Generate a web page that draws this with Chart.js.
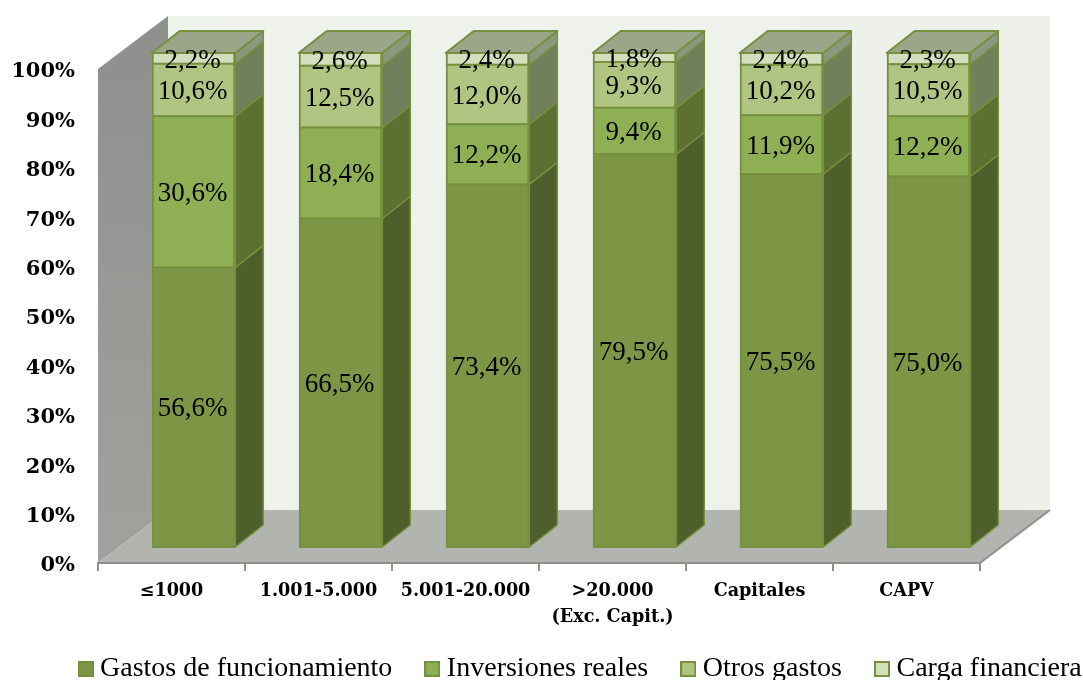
<!DOCTYPE html>
<html>
<head>
<meta charset="utf-8">
<style>html,body{margin:0;padding:0;background:#fff}#w{width:1083px;height:680px}</style>
<script src="https://cdn.jsdelivr.net/npm/chart.js@4"></script>
</head>
<body>
<div id="w"><canvas id="c" width="1083" height="680"></canvas></div>
<script>
const categories = ['≤1000','1.001-5.000','5.001-20.000',['>20.000','(Exc. Capit.)'],'Capitales','CAPV'];
const seriesNames = ['Gastos de funcionamiento','Inversiones reales','Otros gastos','Carga financiera'];
const gastos = [56.6,66.5,73.4,79.5,75.5,75.0];
const inversiones = [30.6,18.4,12.2,9.4,11.9,12.2];
const otros = [10.6,12.5,12.0,9.3,10.2,10.5];
const carga = [2.2,2.6,2.4,1.8,2.4,2.3];
const frontColors = ['#7D9645','#8FAF55','#B1C582','#D3DFBC'];
const sideColors = ['#4F5F2B','#5C7031','#70805A','#8A9880'];
const edgeColor = '#76903F';
const topColor = '#9BA587';
const SERIF = '"Liberation Serif", serif';
const BOLD = '"DejaVu Serif", serif';
const WALL = {dx:70, dy:-53};
const BAR = {ox:22, oy:-16, dx:28, dy:-22};

function swatch(color){
  const s = document.createElement('canvas'); s.width = 16; s.height = 16;
  const g = s.getContext('2d');
  g.fillStyle = color; g.fillRect(0,0,16,16);
  g.strokeStyle = edgeColor; g.lineWidth = 2; g.strokeRect(1,1,14,14);
  return s;
}
function poly(ctx, pts, fill, stroke, lw){
  ctx.beginPath(); pts.forEach((p,i)=> i?ctx.lineTo(p[0],p[1]):ctx.moveTo(p[0],p[1])); ctx.closePath();
  if(fill){ctx.fillStyle=fill;ctx.fill();}
  if(stroke){ctx.strokeStyle=stroke;ctx.lineWidth=lw||1;ctx.lineJoin='round';ctx.stroke();}
}
const scene = {
  id:'scene',
  afterLayout(chart){
    const l = chart.legend;
    const pad = l.options.labels.padding;
    l.left = 85 - pad; l.right = 1160; l.top = 655 - pad; l.bottom = 680;
    chart.scales.x.bottom = 640;
  },
  beforeDraw(chart){
    const {ctx, chartArea:a} = chart;
    const d = WALL;
    ctx.save();
    let g = ctx.createLinearGradient(a.left+d.dx,0,a.right+d.dx,0);
    g.addColorStop(0,'#EEF3EC'); g.addColorStop(1,'#EDF1E9');
    ctx.fillStyle = g;
    ctx.fillRect(a.left+d.dx, a.top+d.dy, a.right-a.left, a.bottom-a.top);
    g = ctx.createLinearGradient(0,a.top,0,a.bottom);
    g.addColorStop(0,'#8F918E'); g.addColorStop(1,'#A0A39D');
    poly(ctx,[[a.left,a.top],[a.left+d.dx,a.top+d.dy],[a.left+d.dx,a.bottom+d.dy],[a.left,a.bottom]],g);
    poly(ctx,[[a.left,a.bottom],[a.left+d.dx,a.bottom+d.dy],[a.right+d.dx,a.bottom+d.dy],[a.right,a.bottom]],'#B2B5AF');
    ctx.beginPath(); ctx.moveTo(a.right,a.bottom); ctx.lineTo(a.right+d.dx,a.bottom+d.dy);
    ctx.strokeStyle='#8E908C'; ctx.lineWidth=2; ctx.stroke();
    ctx.restore();
  },
  beforeDatasetsDraw(chart){
    const ctx = chart.ctx;
    ctx.save();
    ctx.translate(BAR.ox, BAR.oy);
    chart.data.datasets.forEach((ds,i)=>{
      const last = i === chart.data.datasets.length-1;
      chart.getDatasetMeta(i).data.forEach(b=>{
        const r = b.x+b.width/2+1, l = b.x-b.width/2-1, t = b.y, bt = b.base;
        poly(ctx,[[r,t],[r+BAR.dx,t+BAR.dy],[r+BAR.dx,bt+BAR.dy],[r,bt]],sideColors[i],edgeColor,1.5);
        if(last) poly(ctx,[[l,t],[l+BAR.dx,t+BAR.dy],[r+BAR.dx,t+BAR.dy],[r,t]],topColor,edgeColor,2);
      });
    });
  },
  afterDatasetsDraw(chart){
    const ctx = chart.ctx;
    ctx.font = '27px '+SERIF; ctx.fillStyle='#000'; ctx.textAlign='center'; ctx.textBaseline='middle';
    chart.data.datasets.forEach((ds,i)=>{
      chart.getDatasetMeta(i).data.forEach((b,j)=>{
        const txt = ds.data[j].toFixed(1).replace('.',',')+'%';
        ctx.fillText(txt, b.x-1, (b.y+b.base)/2+2);
      });
    });
    ctx.restore();
  }
};
const sets = [gastos,inversiones,otros,carga];
new Chart(document.getElementById('c'),{
  type:'bar',
  data:{
    labels:categories,
    datasets:sets.map((vals,i)=>({
      label:seriesNames[i], data:vals, backgroundColor:frontColors[i],
      borderColor:edgeColor, borderWidth:2, borderSkipped:false, inflateAmount:1,
      categoryPercentage:0.555, barPercentage:1, clip:false
    }))
  },
  plugins:[scene],
  options:{
    responsive:false, animation:false,
    layout:{padding:{top:69,left:0,right:0,bottom:0}},
    plugins:{
      tooltip:{enabled:false},
      legend:{
        position:'bottom', align:'start',
        labels:{
          usePointStyle:true, pointStyleWidth:1, padding:39.5, color:'#000',
          font:{family:SERIF,size:28},
          generateLabels:(chart)=>chart.data.datasets.map((ds,i)=>({
            text:ds.label, datasetIndex:i, pointStyle:swatch(frontColors[i]), fontColor:'#000', hidden:false
          }))
        }
      }
    },
    scales:{
      x:{
        stacked:true,
        grid:{display:true,drawOnChartArea:false,drawTicks:true,tickLength:8,color:'#8E908C',lineWidth:2,offset:true},
        border:{display:true,color:'#8E908C',width:2},
        ticks:{color:'#000',font:{family:BOLD,size:17.6,weight:'bold',lineHeight:1.48},maxRotation:0,autoSkip:false,padding:7},
        afterFit:s=>{s.height=117-s.chart.legend.height;}
      },
      y:{
        stacked:true,min:0,max:100,
        grid:{display:false},
        border:{display:false},
        ticks:{stepSize:10,color:'#000',font:{family:BOLD,size:21,weight:'bold'},padding:15,labelOffset:3,callback:v=>v+'%'},
        afterFit:s=>{s.width=98;}
      },
      spacer:{
        position:'right',display:true,grid:{display:false},border:{display:false},
        ticks:{display:false},afterFit:s=>{s.width=103;}
      }
    }
  }
});
</script>
</body>
</html>
